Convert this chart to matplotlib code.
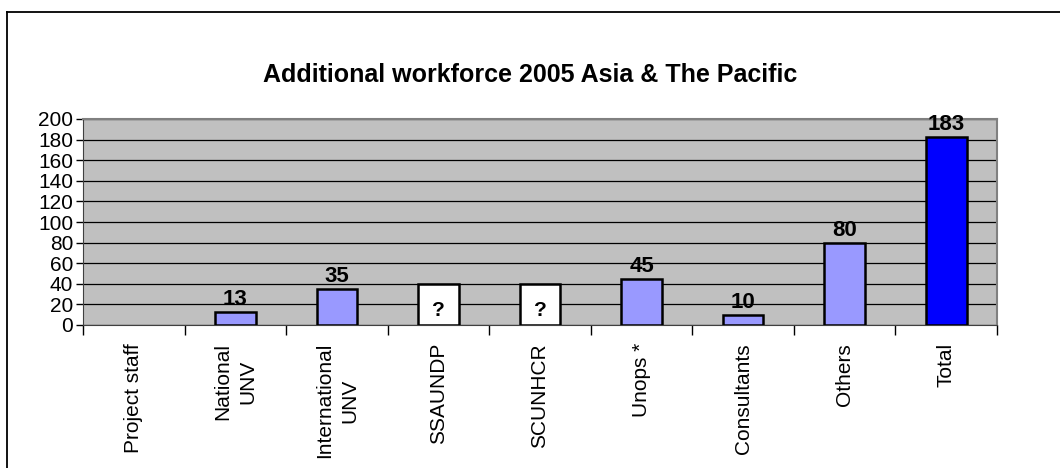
import matplotlib.pyplot as plt
from matplotlib.lines import Line2D

categories = ["Project staff", "National\nUNV", "International\nUNV", "SSAUNDP",
              "SCUNHCR", "Unops *", "Consultants", "Others", "Total"]
values = [0, 13, 35, 40, 40, 45, 10, 80, 183]
labels = ["", "13", "35", "?", "?", "45", "10", "80", "183"]
colors = ["#9999FF", "#9999FF", "#9999FF", "#FFFFFF", "#FFFFFF",
          "#9999FF", "#9999FF", "#9999FF", "#0000FF"]
unknown = [False, False, False, True, True, False, False, False, False]

plt.rcParams["font.family"] = ["Liberation Sans", "DejaVu Sans"]

fig = plt.figure(figsize=(10.6, 4.68), dpi=100)
ax = fig.add_axes([83 / 1060, 1 - 325 / 468, (997 - 83) / 1060, (325 - 119) / 468])

# outer chart frame (top and left only; the rest is off-image)
fig.add_artist(Line2D([7 / 1060, 7 / 1060], [0, 1 - 12 / 468], transform=fig.transFigure,
                      color="black", lw=1.3))
fig.add_artist(Line2D([7 / 1060, 1], [1 - 12 / 468, 1 - 12 / 468], transform=fig.transFigure,
                      color="black", lw=1.3))

x = range(len(categories))
ax.set_facecolor("#C0C0C0")
edge_w = [0 if v == 0 else 1.8 for v in values]
ax.bar(x, values, width=0.4, color=colors, edgecolor="black", linewidth=edge_w, zorder=3)

for i, (v, lab) in enumerate(zip(values, labels)):
    if not lab:
        continue
    if unknown[i]:
        ax.text(i, 14, lab, ha="center", va="center", fontsize=15,
                fontweight="bold", zorder=4)
    else:
        ax.text(i, v + 1.5, lab, ha="center", va="bottom", fontsize=16,
                fontweight="bold", zorder=4)

ax.set_xlim(-0.5, len(categories) - 0.5)
ax.set_ylim(0, 200)
ax.set_yticks(range(0, 201, 20))
ax.yaxis.grid(True, color="black", lw=0.9, zorder=1)
ax.set_axisbelow(True)

ax.set_xticks([i - 0.5 for i in range(len(categories) + 1)])
ax.set_xticklabels([])
ax.set_xticks(list(x), minor=True)
ax.set_xticklabels(categories, minor=True, rotation=90, va="top", ha="center",
                   multialignment="center", fontsize=15, linespacing=1.4)
ax.tick_params(axis="x", which="minor", length=0, pad=13)
ax.tick_params(axis="x", which="major", length=7, width=1, direction="out")
ax.tick_params(axis="y", length=5, width=1, labelsize=15, pad=2)

for s in ["top", "right"]:
    ax.spines[s].set_color("#808080")
    ax.spines[s].set_linewidth(1.5)
ax.spines["left"].set_color("#404040")
ax.spines["bottom"].set_color("#404040")

fig.text(0.5, 1 - 75 / 468, "Additional workforce 2005 Asia & The Pacific",
         ha="center", va="center", fontsize=18, fontweight="bold")

fig.savefig("out.png", dpi=100)
